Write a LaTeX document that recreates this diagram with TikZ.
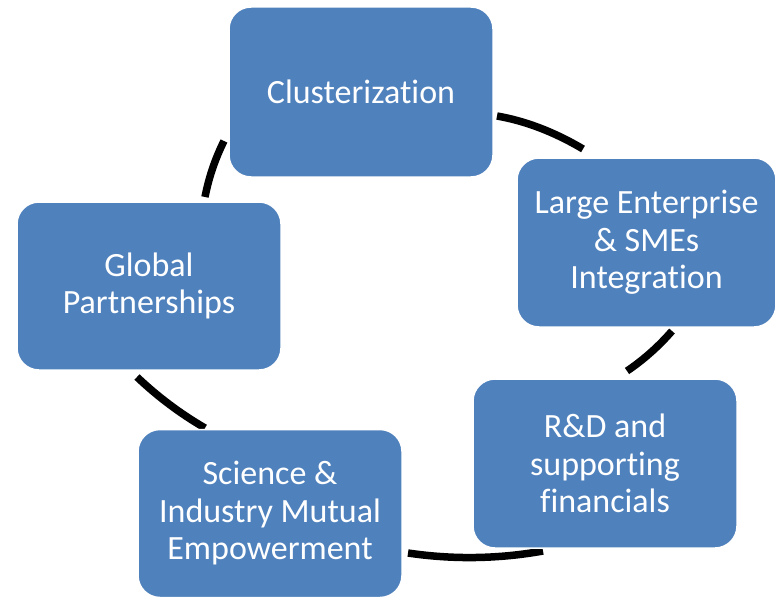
\documentclass[tikz,border=0pt]{standalone}
\usepackage{fontspec}
\setmainfont{Carlito}[Ligatures=NoCommon]
\usetikzlibrary{calc}
\definecolor{boxblue}{RGB}{79,129,189}
\tikzset{
  box/.style={rectangle, rounded corners=22pt, fill=boxblue, draw=white, line width=1.5pt,
    text=white, align=center, inner sep=0pt, font=\fontsize{34}{37.5}\selectfont},
  conn/.style={line width=7.5pt, black, line cap=butt}
}
% quadratic curve as cubic: #1 start, #2 control, #3 end
\newcommand{\qarc}[3]{\draw[conn] (#1) .. controls ($(#1)!2/3!(#2)$) and ($(#3)!2/3!(#2)$) .. (#3);}
\begin{document}
\begin{tikzpicture}[x=1pt,y=-1pt]
\useasboundingbox (0,0) rectangle (775,599);
% arc end points
\coordinate (a1s) at (497,116);
\coordinate (a1c) at (540,123.5);
\coordinate (a1e) at (583,149);
\coordinate (a2s) at (672,331);
\coordinate (a2c) at (652,354);
\coordinate (a2e) at (627,371);
\coordinate (a3s) at (543,551);
\coordinate (a3c) at (475.5,563);
\coordinate (a3e) at (408,553);
\coordinate (a4s) at (205,428);
\coordinate (a4c) at (168,406.5);
\coordinate (a4e) at (137,377);
\coordinate (a5s) at (205,197);
\coordinate (a5c) at (210.7,167.7);
\coordinate (a5e) at (224,141);
\qarc{a1s}{a1c}{a1e}
\qarc{a2s}{a2c}{a2e}
\qarc{a3s}{a3c}{a3e}
\qarc{a4s}{a4c}{a4e}
\qarc{a5s}{a5c}{a5e}
% boxes
\node[box, minimum width=264pt, minimum height=170pt] (clu) at (361,92) {Clusterization};
\node[box, minimum width=259pt, minimum height=169pt] (lar) at (646.5,242.5) {Large Enterprise\\\& SMEs\\Integration};
\node[box, minimum width=264pt, minimum height=169pt] (rnd) at (605,463.5) {R\&D and\\supporting\\financials};
\node[box, minimum width=264pt, minimum height=168pt] (sci) at (270,513.5) {Science \&\\Industry Mutual\\Empowerment};
\node[box, minimum width=264pt, minimum height=168pt] (glo) at (149,286) {Global\\Partnerships};
\end{tikzpicture}
\end{document}
